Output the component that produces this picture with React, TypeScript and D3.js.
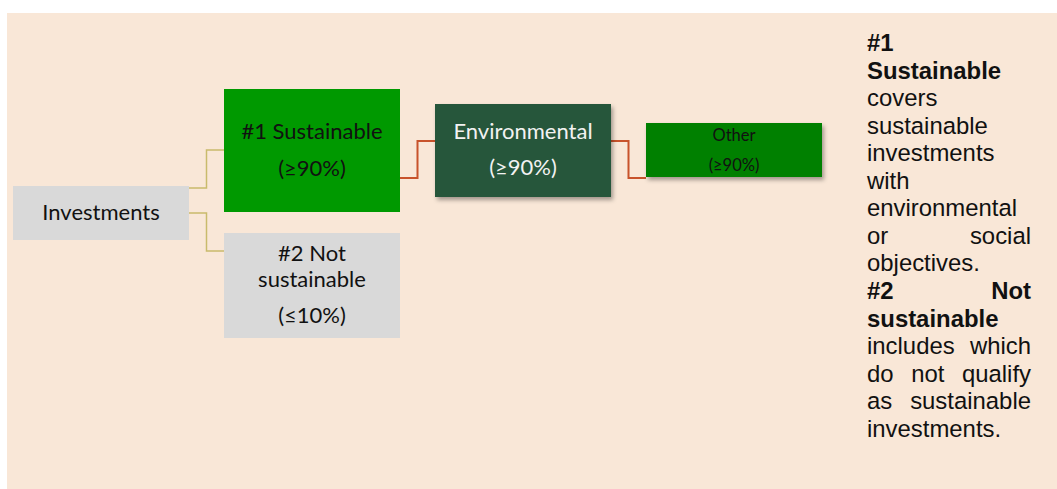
import React, { useEffect, useRef } from "react";
import { select, scaleLinear, line, curveStep } from "d3";

const W = 1057;
const H = 489;

// hierarchy nodes
const nodeNames = ["Investments", "#1 Sustainable", "#2 Not sustainable", "Environmental", "Other"];
const nodeLabelLines = [["Investments"], ["#1 Sustainable"], ["#2 Not", "sustainable"], ["Environmental"], ["Other"]];
const nodeShares = ["", "(≥90%)", "(≤10%)", "(≥90%)", "(≥90%)"];
const nodeDepth = [0, 1, 1, 2, 3];

// links: [source, target]
const links = [
  ["Investments", "#1 Sustainable"],
  ["Investments", "#2 Not sustainable"],
  ["#1 Sustainable", "Environmental"],
  ["Environmental", "Other"],
];

// note on the right, one entry per line
const noteLines = [
  "#1", "Sustainable", "covers", "sustainable", "investments", "with", "environmental",
  "or social", "objectives.", "#2 Not", "sustainable", "includes which", "do not qualify",
  "as sustainable", "investments.",
];
const noteBold = [true, true, false, false, false, false, false, false, false, true, true, false, false, false, false];
const noteJustify = [false, false, false, false, false, false, false, true, false, true, false, true, true, true, false];

// layout (not data)
const boxLayout: Record<string, any> = {
  Investments: { y0: 186, y1: 240, fill: "#d9d9d9", color: "#111", size: 22, base: [220], share: 0, shadow: false },
  "#1 Sustainable": { y0: 89, y1: 212, fill: "#009900", color: "#111", size: 22, base: [139], share: 176, shadow: false },
  "#2 Not sustainable": { y0: 233, y1: 338, fill: "#d9d9d9", color: "#111", size: 22, base: [261, 287], share: 323, shadow: false },
  Environmental: { y0: 104, y1: 197, fill: "#27573b", color: "#f2f2f2", size: 22, base: [139], share: 175, shadow: true },
  Other: { y0: 123, y1: 177, fill: "#008000", color: "#111", size: 16.5, base: [141], share: 171, shadow: true },
};
const linkLayout = [
  { sy: 188, ty: 150, stroke: "#c9bb6c", sw: 1.5 },
  { sy: 213, ty: 251, stroke: "#c9bb6c", sw: 1.5 },
  { sy: 178, ty: 141, stroke: "#c8532b", sw: 2 },
  { sy: 141, ty: 178, stroke: "#c8532b", sw: 2 },
];

function App() {
  const svgRef = useRef<SVGSVGElement>(null);

  useEffect(() => {
    document.body.style.margin = "0";
    select(svgRef.current).selectAll("*").remove();
    const svg = select(svgRef.current);

    const defs = svg.append("defs");
    defs
      .append("filter")
      .attr("id", "shadow")
      .attr("x", "-10%")
      .attr("y", "-20%")
      .attr("width", "130%")
      .attr("height", "150%")
      .append("feDropShadow")
      .attr("dx", 2)
      .attr("dy", 3)
      .attr("stdDeviation", 2)
      .attr("flood-color", "#000")
      .attr("flood-opacity", 0.35);

    svg.append("rect").attr("x", 7).attr("y", 13).attr("width", W - 7).attr("height", H - 13).attr("fill", "#f9e7d7");

    const boxW = 176;
    const x = scaleLinear().domain([0, 3]).range([13, 646]);

    // links
    const path = line<[number, number]>().curve(curveStep);
    links.forEach(([s, t], i) => {
      const si = nodeNames.indexOf(s);
      const ti = nodeNames.indexOf(t);
      const lk = linkLayout[i];
      svg
        .append("path")
        .attr("d", path([
          [x(nodeDepth[si]) + boxW, lk.sy],
          [x(nodeDepth[ti]), lk.ty],
        ]))
        .attr("fill", "none")
        .attr("stroke", lk.stroke)
        .attr("stroke-width", lk.sw);
    });

    // boxes
    nodeNames.forEach((name, i) => {
      const b = boxLayout[name];
      const x0 = x(nodeDepth[i]);
      const g = svg.append("g");
      g.append("rect")
        .attr("x", x0)
        .attr("y", b.y0)
        .attr("width", boxW)
        .attr("height", b.y1 - b.y0)
        .attr("fill", b.fill)
        .attr("filter", b.shadow ? "url(#shadow)" : null);
      const cx = x0 + boxW / 2;
      nodeLabelLines[i].forEach((ln, j) => {
        g.append("text")
          .attr("x", cx)
          .attr("y", b.base[j])
          .attr("text-anchor", "middle")
          .attr("font-family", "Lato, 'Noto Sans', sans-serif")
          .attr("font-size", b.size)
          .attr("fill", b.color)
          .text(ln);
      });
      if (nodeShares[i]) {
        g.append("text")
          .attr("x", cx)
          .attr("y", b.share)
          .attr("text-anchor", "middle")
          .attr("font-family", "Lato, 'Noto Sans', sans-serif")
          .attr("font-size", b.size)
          .attr("fill", b.color)
          .text(nodeShares[i]);
      }
    });

    // justified note
    const left = 867;
    const right = 1031;
    const note = svg.append("g").attr("font-family", "'Liberation Sans', Arial, sans-serif").attr("font-size", 23.9).attr("fill", "#111");
    noteLines.forEach((ln, i) => {
      const y = 51 + i * 27.55;
      const words = ln.split(" ");
      const weight = noteBold[i] ? "bold" : "normal";
      if (!noteJustify[i] || words.length < 2) {
        note.append("text").attr("x", left).attr("y", y).attr("font-weight", weight).text(ln);
        return;
      }
      const nodes = words.map((w) =>
        note.append("text").attr("y", y).attr("font-weight", weight).text(w)
      );
      const widths = nodes.map((n) => (n.node() as SVGTextElement).getComputedTextLength());
      const total = widths.reduce((a, b) => a + b, 0);
      const gap = (right - left - total) / (words.length - 1);
      let cur = left;
      nodes.forEach((n, k) => {
        n.attr("x", cur);
        cur += widths[k] + gap;
      });
    });
  }, []);

  return <svg width={W} height={H} ref={svgRef} style={{ display: "block" }}></svg>;
}

export default App;
